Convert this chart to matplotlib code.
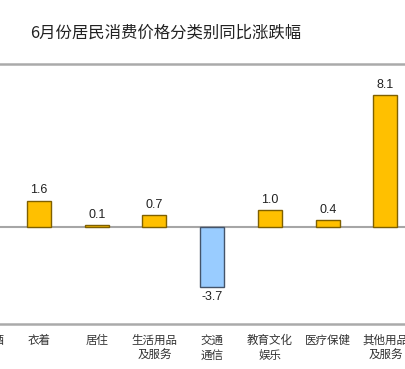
import matplotlib
matplotlib.use("Agg")
import matplotlib.pyplot as plt

plt.rcParams['font.family'] = ['Noto Sans CJK SC', 'DejaVu Sans']

# data
categories = ["食品烟酒", "衣着", "居住", "生活用品\n及服务", "交通\n通信",
              "教育文化\n娱乐", "医疗保健", "其他用品\n及服务"]
values = [-0.3, 1.6, 0.1, 0.7, -3.7, 1.0, 0.4, 8.1]
title = "6月份居民消费价格分类别同比涨跌幅"

W, H = 406, 369
step = 57.75          # px between categories
x0, x1 = -0.5, 7.355  # view; the reference is cropped, first bar lies off the left edge
left_px = -(0.325 - x0) * step

fig = plt.figure(figsize=(W / 100, H / 100), dpi=100)
ax = fig.add_axes([left_px / W, 1 - 324 / H, (x1 - x0) * step / W, (324 - 64) / H])

x = list(range(len(categories)))
colors = ["#FFC000" if v >= 0 else "#99CCFF" for v in values]
edges = ["#7F6000" if v >= 0 else "#44546A" for v in values]
ax.bar(x, values, width=0.415, color=colors, edgecolor=edges, linewidth=1.0, zorder=3)

# value labels above / below bars
for xi, v in zip(x, values):
    off = 3 if v >= 0 else -3
    ax.annotate(f"{v:.1f}", xy=(xi, v), xytext=(0, off), textcoords="offset points",
                ha="center", va="bottom" if v >= 0 else "top",
                fontsize=9, family="Liberation Sans", color="#222222")

ax.axhline(0, color="#A6A6A6", linewidth=1.5, zorder=2)

ax.set_yticks([])
ax.set_xticks(x)
ax.set_xticklabels(categories, fontsize=8.3, color="#333333", linespacing=1.25)
ax.tick_params(axis="x", length=0, pad=7)
ax.set_xlim(x0, x1)
ax.set_ylim(-6, 10)

for s in ["left", "right"]:
    ax.spines[s].set_visible(False)
for s in ["top", "bottom"]:
    ax.spines[s].set_color("#AAAAAA")
    ax.spines[s].set_linewidth(1.8)

fig.text(30 / W, 1 - 33 / H, title, fontsize=11.8, color="#222222", va="center", ha="left")

fig.savefig("out.png", dpi=100)
